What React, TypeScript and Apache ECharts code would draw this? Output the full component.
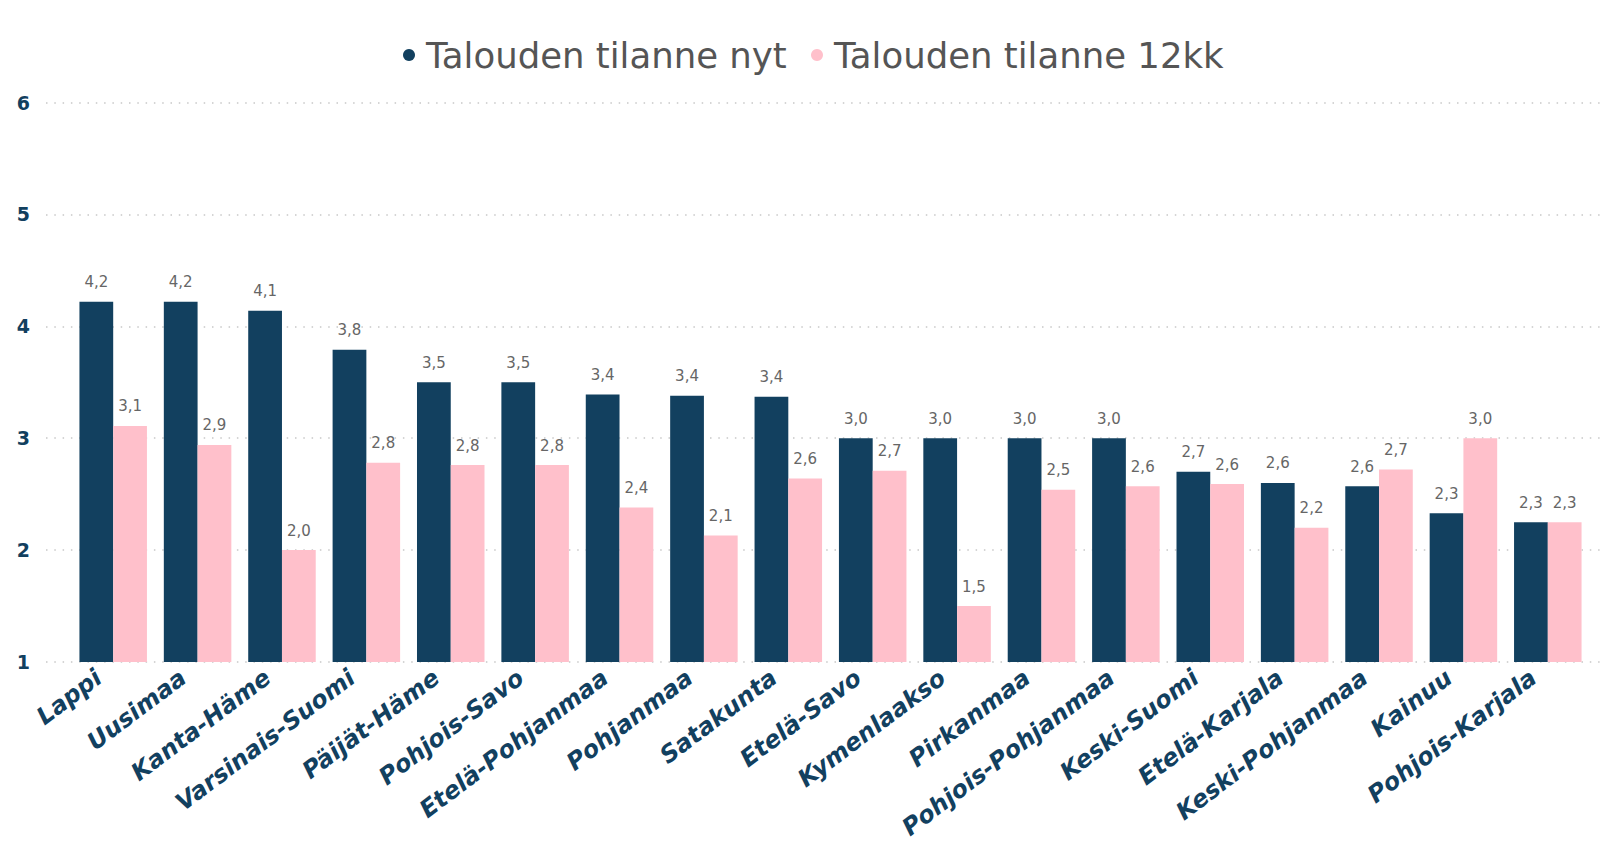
import React, { useEffect, useRef } from "react";
import * as echarts from "echarts";

const categories = [
  "Lappi", "Uusimaa", "Kanta-Häme", "Varsinais-Suomi", "Päijät-Häme", "Pohjois-Savo",
  "Etelä-Pohjanmaa", "Pohjanmaa", "Satakunta", "Etelä-Savo", "Kymenlaakso", "Pirkanmaa",
  "Pohjois-Pohjanmaa", "Keski-Suomi", "Etelä-Karjala", "Keski-Pohjanmaa", "Kainuu", "Pohjois-Karjala",
];
const seriesNames = ["Talouden tilanne nyt", "Talouden tilanne 12kk"];
const nytValues = [4.22, 4.22, 4.14, 3.79, 3.5, 3.5, 3.39, 3.38, 3.37, 3.0, 3.0, 3.0, 3.0, 2.7, 2.6, 2.57, 2.33, 2.25];
const kkValues = [3.11, 2.94, 2.0, 2.78, 2.76, 2.76, 2.38, 2.13, 2.64, 2.71, 1.5, 2.54, 2.57, 2.59, 2.2, 2.72, 3.0, 2.25];
const yTicks = [1, 2, 3, 4, 5, 6];

const NAVY = "#12405f";
const PINK = "#ffc0cb";

export default function App() {
  const ref = useRef<HTMLDivElement>(null);
  useEffect(() => {
    if (!ref.current) return;
    const chart = echarts.init(ref.current, null, { renderer: "svg" });
    const fmt = (p: any) => Number(p.value).toFixed(1).replace(".", ",");
    const labelStyle = {
      show: true,
      position: "top",
      distance: 12,
      formatter: fmt,
      color: "#666666",
      fontFamily: "DejaVu Sans",
      fontSize: 15,
    };
    const legendText = {
      color: "#555555",
      fontFamily: "DejaVu Sans",
      fontSize: 35.5,
    };
    chart.setOption({
      animation: false,
      backgroundColor: "#ffffff",
      legend: [
        {
          data: [seriesNames[0]],
          left: 398,
          top: 32,
          icon: "circle",
          itemWidth: 24,
          itemHeight: 12,
          textStyle: legendText,
        },
        {
          data: [seriesNames[1]],
          left: 806,
          top: 32,
          icon: "circle",
          itemWidth: 24,
          itemHeight: 12,
          textStyle: legendText,
        },
      ],
      grid: [
        { left: 46, right: 6, top: 102.5, bottom: 183, containLabel: false, outerBoundsMode: "none" },
        { left: 71, right: 17, top: 102.5, bottom: 183, containLabel: false, outerBoundsMode: "none" },
      ],
      xAxis: [
        { type: "value", gridIndex: 0, show: false, min: 0, max: 1 },
        {
          type: "category",
          gridIndex: 1,
          data: categories,
          axisLine: { show: false },
          axisTick: { show: false },
          axisLabel: {
            interval: 0,
            rotate: 37,
            margin: 2,
            padding: [0, 18, 0, 0],
            color: NAVY,
            fontFamily: "DejaVu Sans",
            fontWeight: "bold",
            fontStyle: "italic",
            fontSize: 24,
          },
        },
      ],
      yAxis: [
        {
          type: "value",
          gridIndex: 0,
          min: yTicks[0],
          max: yTicks[yTicks.length - 1],
          interval: 1,
          axisLine: { show: false },
          axisTick: { show: false },
          axisLabel: {
            margin: 16,
            color: NAVY,
            fontFamily: "DejaVu Sans",
            fontWeight: "bold",
            fontSize: 19,
          },
          splitLine: {
            show: true,
            lineStyle: { color: "#c8c8c8", width: 1.5, type: [1.5, 6.8] },
          },
        },
        {
          type: "value",
          gridIndex: 1,
          min: yTicks[0],
          max: yTicks[yTicks.length - 1],
          interval: 1,
          show: false,
          splitLine: { show: false },
        },
      ],
      series: [
        {
          name: seriesNames[0],
          type: "bar",
          xAxisIndex: 1,
          yAxisIndex: 1,
          data: nytValues,
          itemStyle: { color: NAVY },
          barGap: "0%",
          barCategoryGap: "20%",
          label: labelStyle,
        },
        {
          name: seriesNames[1],
          type: "bar",
          xAxisIndex: 1,
          yAxisIndex: 1,
          data: kkValues,
          itemStyle: { color: PINK },
          barGap: "0%",
          barCategoryGap: "20%",
          label: labelStyle,
        },
      ],
    });
    return () => chart.dispose();
  }, []);
  return (
    <div
      ref={ref}
      style={{ position: "fixed", left: 0, top: 0, width: 1607, height: 845, background: "#fff" }}
    />
  );
}
